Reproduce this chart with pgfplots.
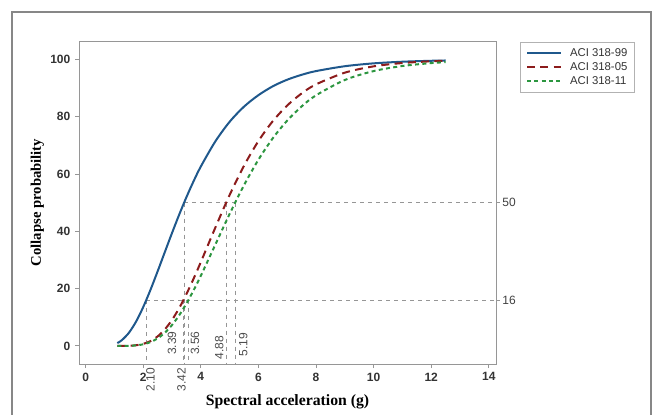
\documentclass[border=0pt]{standalone}
\usepackage{fontspec}
\setmainfont{Liberation Sans}
\newfontfamily\timesfont{Liberation Serif}
\usepackage{pgfplots}
\pgfplotsset{compat=1.18}

\definecolor{c99}{RGB}{31,88,140}
\definecolor{c05}{RGB}{140,28,28}
\definecolor{c11}{RGB}{44,150,64}
\definecolor{frame}{RGB}{150,150,150}
\definecolor{refl}{RGB}{150,150,150}

% fragility curves, collapse probability (%) vs spectral acceleration (g)
\pgfplotstableread{
x y
1.10 1.0
1.25 1.95
1.50 4.55
1.75 8.47
2.00 13.57
2.25 19.53
2.50 26.03
2.75 32.74
3.00 39.41
3.25 45.84
3.50 51.9
3.75 57.5
4.00 62.6
4.50 71.3
5.00 78.2
5.50 83.5
6.00 87.5
6.50 90.6
7.00 92.9
7.50 94.6
8.00 95.9
9.00 97.6
10.0 98.6
11.0 99.17
12.0 99.5
12.5 99.6
}\aciA

\pgfplotstableread{
x y
1.10 0.0
1.25 0.01
1.50 0.06
1.75 0.24
2.00 0.72
2.25 1.68
2.50 3.32
2.75 5.77
3.00 9.09
3.25 13.23
3.50 18.09
3.75 23.49
4.00 29.26
4.50 41.2
5.00 52.66
5.50 62.87
6.00 71.48
6.50 78.44
7.00 83.9
7.50 88.1
8.00 91.26
9.00 95.35
10.0 97.55
11.0 98.72
12.0 99.32
12.5 99.51
}\aciB

\pgfplotstableread{
x y
1.10 0.0
1.50 0.05
1.75 0.2
2.00 0.57
2.25 1.33
2.50 2.64
2.75 4.6
3.00 7.3
3.25 10.73
3.50 14.8
3.75 19.44
4.00 24.48
4.50 35.27
5.00 46.06
5.50 56.1
6.00 64.98
6.50 72.48
7.00 78.63
7.50 83.56
8.00 87.45
9.00 92.79
10.0 95.9
11.0 97.68
12.0 98.69
12.5 99.01
}\aciC

\begin{document}
\begin{tikzpicture}
\path[use as bounding box] (0,0) rectangle (489.75pt,310.5pt);
\draw[frame!90!black, line width=0.8pt] (9pt,-2pt) -- (9pt,301.5pt) -- (488.25pt,301.5pt) -- (488.25pt,-2pt);

\begin{axis}[
  at={(59.25pt,37.5pt)}, anchor=south west,
  scale only axis, width=312.75pt, height=242.25pt,
  xmin=-0.23, xmax=14.25, ymin=-6.3, ymax=106.4,
  xtick={0,2,...,14}, ytick={0,20,...,100},
  axis line style={frame, line width=0.7pt},
  tick style={frame, line width=0.7pt},
  tick align=outside, major tick length=3pt,
  xtick pos=bottom, ytick pos=left,
  ticklabel style={font=\fontsize{9}{10}\selectfont\bfseries, text=black!80},
  /pgf/number format/assume math mode=true,
  xlabel={Spectral acceleration (g)},
  ylabel={Collapse probability},
  xlabel style={font=\timesfont\bfseries\fontsize{11.8}{13}\selectfont, at={(rel axis cs:0.5,-0.118)}, anchor=center},
  ylabel style={font=\timesfont\bfseries\fontsize{11}{13}\selectfont, at={(rel axis cs:-0.1,0.5)}, anchor=center},
  clip=false,
  legend style={at={(rel axis cs:1.057,0.998)}, anchor=north west,
    draw=black!30, font=\fontsize{8.5}{10}\selectfont, text=black!80,
    inner xsep=4.5pt, inner ysep=4.5pt, row sep=2.5pt,
    nodes={inner xsep=1pt, inner ysep=0.5pt, text height=6pt, text depth=1pt},
    /tikz/every odd column/.append style={column sep=5pt},
    /tikz/every even column/.append style={column sep=7pt},
    cells={anchor=west}},
  legend image code/.code={\draw[#1] (0pt,0pt) -- (25.5pt,0pt);},
]
% reference lines
\addplot[refl, dashed, line width=0.5pt, forget plot] coordinates {(3.42,50) (14.25,50)};
\addplot[refl, dashed, line width=0.5pt, forget plot] coordinates {(2.10,16) (14.25,16)};
\addplot[refl, dashed, line width=0.5pt, forget plot] coordinates {(2.10,16) (2.10,-6.3)};
\addplot[refl, dashed, line width=0.5pt, forget plot] coordinates {(3.39,16) (3.39,-6.3)};
\addplot[refl, dashed, line width=0.5pt, forget plot] coordinates {(3.56,16) (3.56,-6.3)};
\addplot[refl, dashed, line width=0.5pt, forget plot] coordinates {(3.42,50) (3.42,-6.3)};
\addplot[refl, dashed, line width=0.5pt, forget plot] coordinates {(4.88,50) (4.88,-6.3)};
\addplot[refl, dashed, line width=0.5pt, forget plot] coordinates {(5.19,50) (5.19,-6.3)};

\addplot[c99, line width=1.5pt, smooth] table {\aciA};
\addlegendentry{ACI 318-99}
\addplot[c05, line width=1.5pt, smooth, dash pattern=on 6pt off 4pt] table {\aciB};
\addlegendentry{ACI 318-05}
\addplot[c11, line width=1.5pt, smooth, dash pattern=on 3pt off 2.5pt] table {\aciC};
\addlegendentry{ACI 318-11}

% right-hand ticks and value labels
\draw[frame, line width=0.7pt] (axis cs:14.25,50) -- ([xshift=3pt]axis cs:14.25,50) node[right, inner sep=1.5pt, text=black!75, font=\fontsize{9}{10}\selectfont] {50};
\draw[frame, line width=0.7pt] (axis cs:14.25,16) -- ([xshift=3pt]axis cs:14.25,16) node[right, inner sep=1.5pt, text=black!75, font=\fontsize{9}{10}\selectfont] {16};
\begin{scope}[every node/.style={rotate=90, text=black!70, font=\fontsize{9}{10}\selectfont, inner sep=0pt}]
\node at (axis cs:2.25,-11.8) {2.10};
\node at (axis cs:3.33,-11.8) {3.42};
\node at (axis cs:3.00,1.0) {3.39};
\node at (axis cs:3.80,1.0) {3.56};
\node at (axis cs:4.64,-0.5) {4.88};
\node at (axis cs:5.47,0.5) {5.19};
\end{scope}
\end{axis}
\end{tikzpicture}
\end{document}
